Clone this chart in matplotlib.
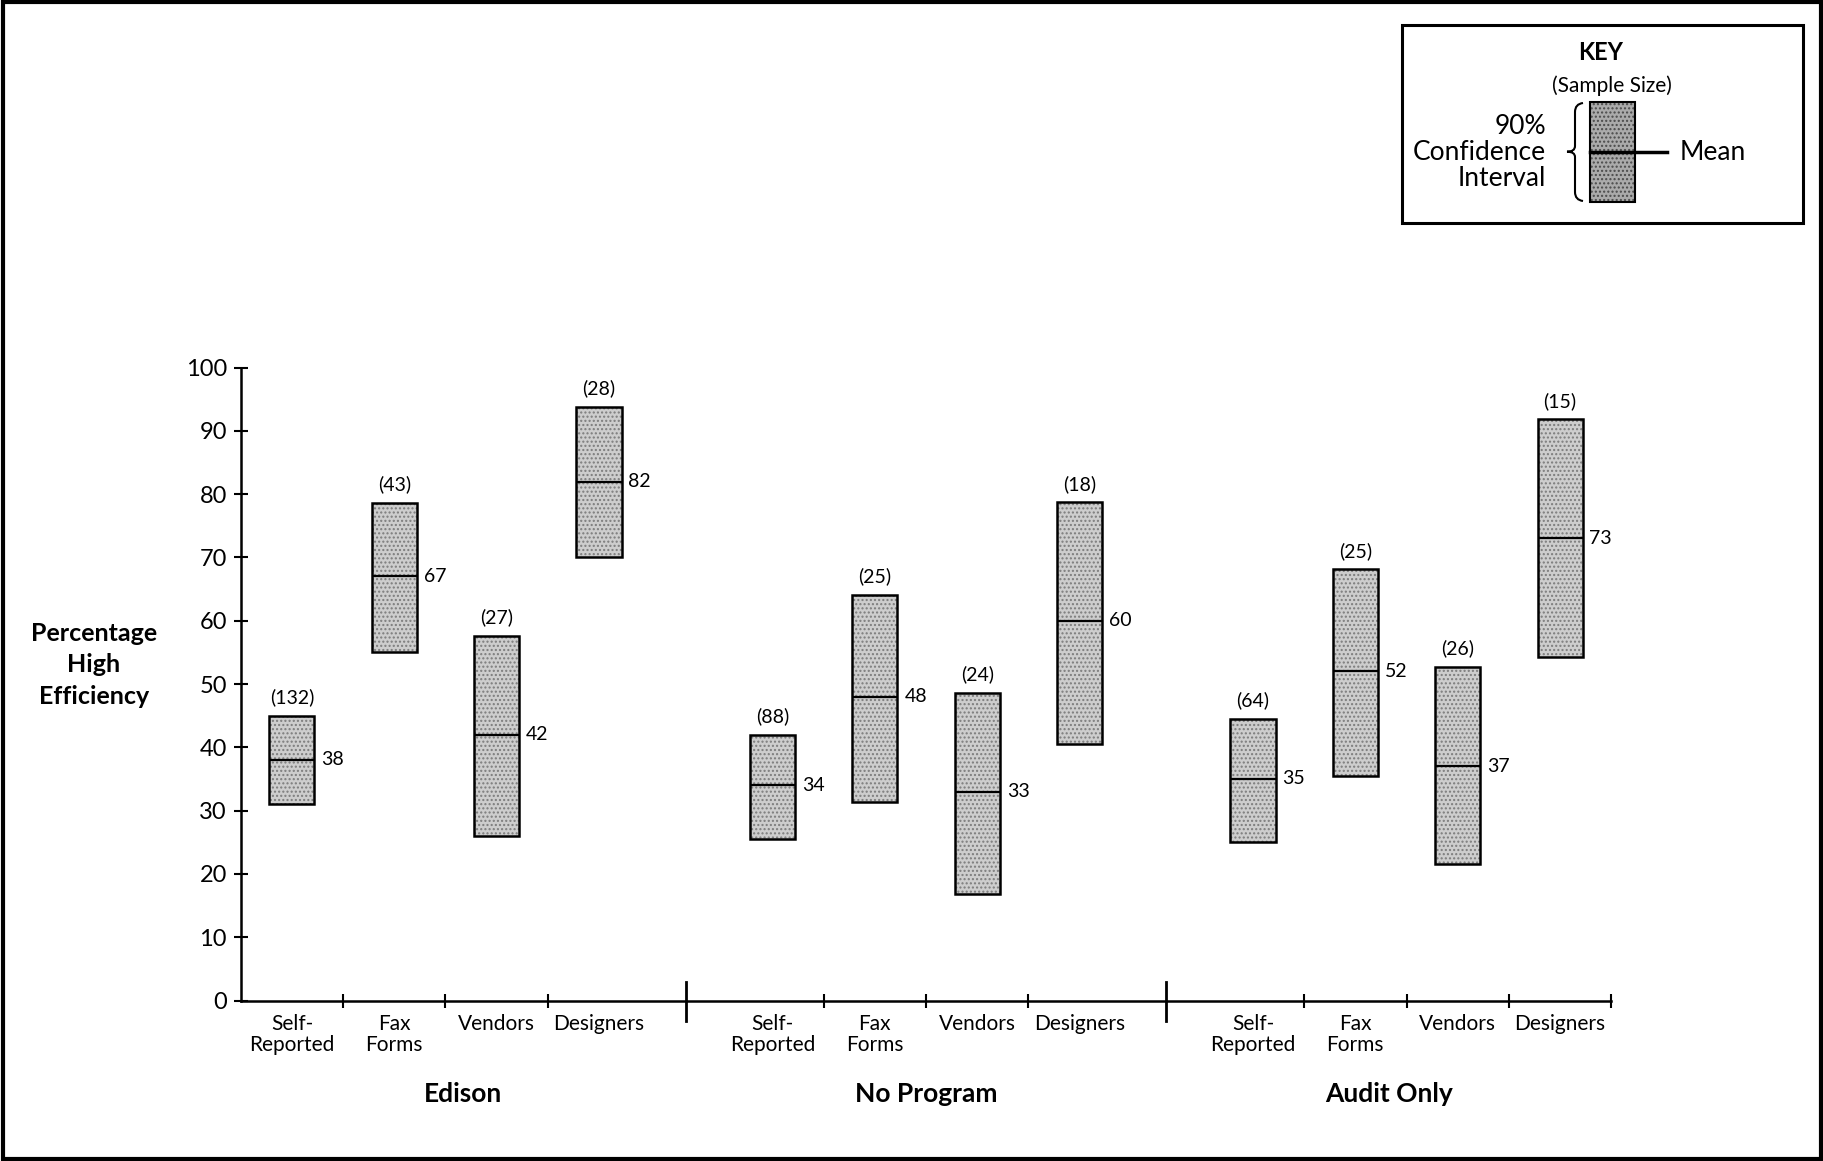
import matplotlib
matplotlib.use("Agg")
import matplotlib.pyplot as plt
from matplotlib.patches import Rectangle, PathPatch
from matplotlib.path import Path
import numpy as np

plt.rcParams['font.family'] = ['Lato', 'DejaVu Sans']

# ---------------- data ----------------
groups = ["Edison", "No Program", "Audit Only"]
categories = ["Self-\nReported", "Fax\nForms", "Vendors", "Designers"]

edison_mean = [38, 67, 42, 82]
edison_low = [31, 55, 26, 70]
edison_high = [45, 78.6, 57.6, 93.8]
edison_n = [132, 43, 27, 28]

noprog_mean = [34, 48, 33, 60]
noprog_low = [25.5, 31.4, 16.8, 40.5]
noprog_high = [42, 64.1, 48.6, 78.7]
noprog_n = [88, 25, 24, 18]

audit_mean = [35, 52, 37, 73]
audit_low = [25.1, 35.5, 21.6, 54.3]
audit_high = [44.5, 68.1, 52.7, 91.8]
audit_n = [64, 25, 26, 15]

yticks = list(range(0, 101, 10))

# ---------------- layout ----------------
W, H = 1824, 1161
fig = plt.figure(figsize=(W / 100, H / 100), dpi=100)
group_start = [0.0, 4.695, 9.39]
x_end = 13.39
ax = fig.add_axes([240.8 / W, 1 - 1000.5 / H, (1611.2 - 240.8) / W, (1000.5 - 367.6) / H])
ax.set_xlim(0, x_end)
ax.set_ylim(0, 100)
for s in ['top', 'right']:
    ax.spines[s].set_visible(False)
ax.spines['left'].set_linewidth(1.8)
ax.spines['bottom'].set_linewidth(1.8)

means = [edison_mean, noprog_mean, audit_mean]
lows = [edison_low, noprog_low, audit_low]
highs = [edison_high, noprog_high, audit_high]
ns = [edison_n, noprog_n, audit_n]

bw = 0.44
fill_col = '#cdcdcd'
dot_col = '#7c7c7c'
plt.rcParams['hatch.linewidth'] = 1.0

for gi in range(3):
    xs = np.array([group_start[gi] + i + 0.5 for i in range(4)])
    lo = np.array(lows[gi]); hi = np.array(highs[gi]); mu = np.array(means[gi])
    ax.bar(xs, hi - lo, bottom=lo, width=bw, color=fill_col, edgecolor=dot_col,
           linewidth=0, hatch='....', zorder=2)
    ax.bar(xs, hi - lo, bottom=lo, width=bw, fill=False, edgecolor='black',
           linewidth=1.8, zorder=3)
    ax.hlines(mu, xs - bw / 2, xs + bw / 2, color='black', linewidth=1.6, zorder=4)
    for x, m, h, n in zip(xs, mu, hi, ns[gi]):
        ax.annotate(f"{int(m)}", (x + bw / 2, m), xytext=(5, 0), textcoords='offset points',
                    ha='left', va='center', fontsize=14)
        ax.text(x, h + 2.9, f"({n})", ha='center', va='center', fontsize=14)

# y axis ticks
ax.set_yticks(yticks)
ax.set_yticklabels([str(v) for v in yticks], fontsize=17)
ax.tick_params(axis='y', direction='inout', length=10, width=1.5, pad=5)

# x ticks: interior boundaries + end
xt = [1, 2, 3, 5.695, 6.695, 7.695, 10.39, 11.39, 12.39, 13.39]
ax.set_xticks(xt)
ax.set_xticklabels([''] * len(xt))
ax.tick_params(axis='x', direction='inout', length=10, width=1.5)

# category labels
xform = ax.get_xaxis_transform()
for gi in range(3):
    for i, c in enumerate(categories):
        ax.text(group_start[gi] + i + 0.5, -0.022, c, transform=xform, ha='center', va='top',
                fontsize=15, linespacing=1.05)

# separators and group labels
seps = [4.35, 9.04]
for s in seps:
    ax.plot([s, s], [0.029, -0.032], transform=xform, color='black', lw=2.0, clip_on=False)
bounds = [0] + seps + [x_end]
for gi, g in enumerate(groups):
    ax.text((bounds[gi] + bounds[gi + 1]) / 2, -0.148, g, transform=xform, ha='center',
            va='center', fontsize=19, fontweight='bold')

# y label
fig.text(94 / W, 1 - 665 / H, "Percentage\nHigh\nEfficiency", ha='center', va='center',
         fontsize=18, fontweight='bold', linespacing=1.45)

# ---------------- key ----------------
def fx(x): return x / W
def fy(y): return 1 - y / H

fig.patches.append(Rectangle((fx(1401.7), fy(222.7)), fx(1803) - fx(1401.7), fy(25) - fy(222.7),
                             transform=fig.transFigure, fill=False, edgecolor='black', lw=2.2))
fig.text(fx(1601), fy(52), "KEY", ha='center', va='center', fontsize=17, fontweight='bold')
fig.text(fx(1612), fy(86), "(Sample Size)", ha='center', va='center', fontsize=15)
fig.patches.append(Rectangle((fx(1590), fy(201.7)), fx(1635) - fx(1590), fy(101.7) - fy(201.7),
                             transform=fig.transFigure, facecolor='#aaaaaa', edgecolor='#4a4a4a',
                             linewidth=0, hatch='....'))
fig.patches.append(Rectangle((fx(1590), fy(201.7)), fx(1635) - fx(1590), fy(101.7) - fy(201.7),
                             transform=fig.transFigure, fill=False, edgecolor='black', lw=1.5))
fig.lines.append(plt.Line2D([fx(1590), fx(1666.7)], [fy(151.7), fy(151.7)],
                            transform=fig.transFigure, color='black', lw=2.5))
fig.text(fx(1680), fy(152), "Mean", ha='left', va='center', fontsize=19)
for txt, yy in [("90%", 126), ("Confidence", 152), ("Interval", 179)]:
    fig.text(fx(1546), fy(yy), txt, ha='right', va='center', fontsize=19)

# brace
verts = [(1583, 103), (1575, 104), (1575, 112),
         (1575, 146),
         (1575, 151.7), (1567, 151.7),
         (1575, 151.7), (1575, 157),
         (1575, 192),
         (1575, 200), (1583, 201)]
codes = [Path.MOVETO, Path.CURVE3, Path.CURVE3,
         Path.LINETO,
         Path.CURVE3, Path.CURVE3,
         Path.CURVE3, Path.CURVE3,
         Path.LINETO,
         Path.CURVE3, Path.CURVE3]
bp = Path([(fx(x), fy(y)) for x, y in verts], codes)
fig.patches.append(PathPatch(bp, transform=fig.transFigure, fill=False, edgecolor='black', lw=1.5))

# page border
fig.patches.append(Rectangle((0.0015, 0.0015), 0.997, 0.997, transform=fig.transFigure,
                             fill=False, edgecolor='black', lw=3))

fig.savefig("out.png", dpi=100, facecolor='white')
